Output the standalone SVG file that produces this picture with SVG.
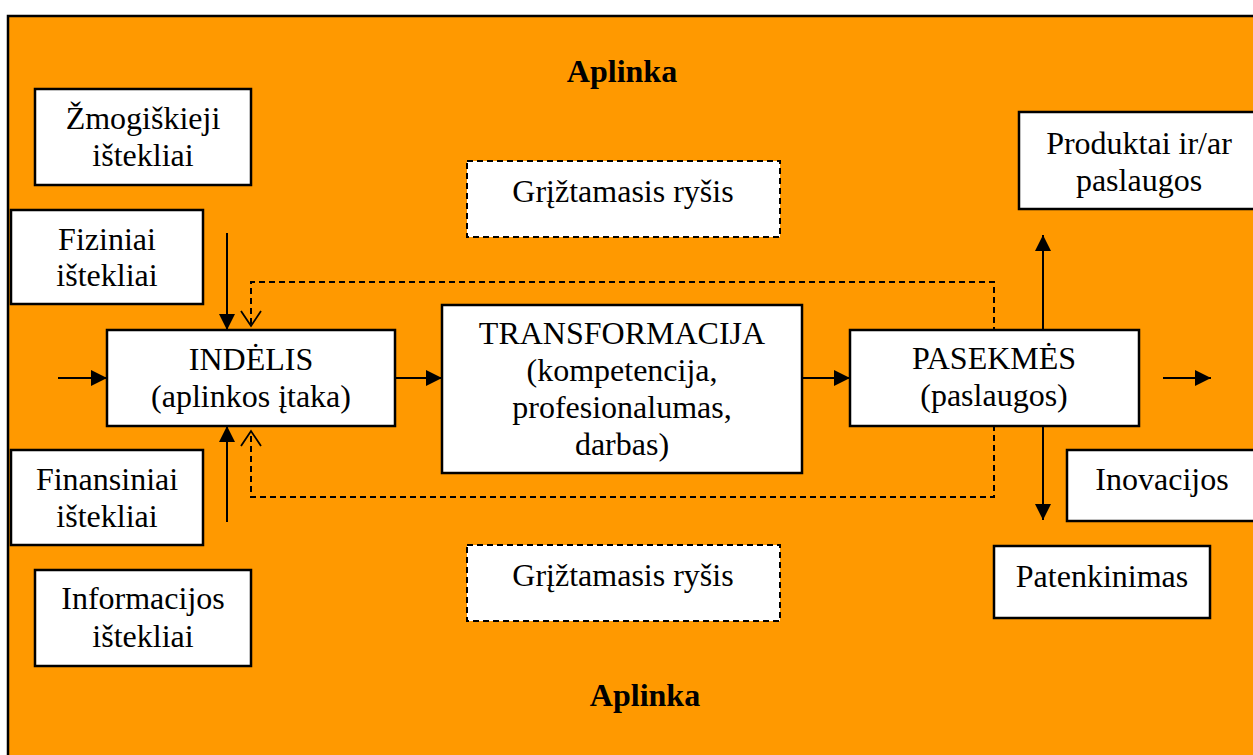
<svg xmlns="http://www.w3.org/2000/svg" width="1253" height="755" viewBox="0 0 1253 755">
  <style>
    .box { fill: #ffffff; stroke: #000000; stroke-width: 2.5; }
    .fb { fill: #ffffff; stroke: #000000; stroke-width: 2; stroke-dasharray: 6 4; }
    text { font-family: "Liberation Serif", "Times New Roman", serif; font-size: 32px; fill: #000000; text-anchor: middle; }
    .bold { font-weight: bold; }
    .line { fill: none; stroke: #000000; stroke-width: 2; }
    .dash { fill: none; stroke: #000000; stroke-width: 2; stroke-dasharray: 6 4; }
  </style>
  <defs>
    <marker id="solid" markerUnits="userSpaceOnUse" markerWidth="17" markerHeight="16" refX="16" refY="8" orient="auto">
      <path d="M0,0 L16,8 L0,16 Z" fill="#000000"/>
    </marker>
    <marker id="open" markerUnits="userSpaceOnUse" markerWidth="18" markerHeight="22" refX="16" refY="11" orient="auto">
      <path d="M1,1 L16,11 L1,21" fill="none" stroke="#000000" stroke-width="1.8"/>
    </marker>
  </defs>

  <!-- environment frame -->
  <rect x="8" y="16" width="1260" height="760" fill="#ff9900" stroke="#000000" stroke-width="2.5"/>
  <text class="bold" x="622" y="82">Aplinka</text>
  <text class="bold" x="645" y="706">Aplinka</text>

  <!-- connectors -->
  <g id="connectors">
    <line class="line" x1="58" y1="378" x2="107" y2="378" marker-end="url(#solid)"/>
    <line class="line" x1="227" y1="233" x2="227" y2="330" marker-end="url(#solid)"/>
    <line class="line" x1="227" y1="522" x2="227" y2="426" marker-end="url(#solid)"/>
    <line class="line" x1="395" y1="378" x2="442" y2="378" marker-end="url(#solid)"/>
    <line class="line" x1="802" y1="378" x2="850" y2="378" marker-end="url(#solid)"/>
    <line class="line" x1="1163" y1="378" x2="1211" y2="378" marker-end="url(#solid)"/>
    <line class="line" x1="1043" y1="333" x2="1043" y2="235" marker-end="url(#solid)"/>
    <line class="line" x1="1043" y1="425" x2="1043" y2="520" marker-end="url(#solid)"/>
    <path class="dash" d="M994,333 L994,282 L251,282 L251,326" marker-end="url(#open)"/>
    <path class="dash" d="M994,425 L994,497 L251,497 L251,431" marker-end="url(#open)"/>
  </g>

  <!-- resource nodes -->
  <g id="zmogiskieji">
    <rect class="box" x="35" y="89" width="216" height="96"/>
    <text x="143" y="129">Žmogiškieji</text>
    <text x="143" y="166">ištekliai</text>
  </g>
  <g id="fiziniai">
    <rect class="box" x="11" y="210" width="192" height="94"/>
    <text x="107" y="250">Fiziniai</text>
    <text x="107" y="286">ištekliai</text>
  </g>
  <g id="finansiniai">
    <rect class="box" x="11" y="450" width="192" height="95"/>
    <text x="107" y="490">Finansiniai</text>
    <text x="107" y="527">ištekliai</text>
  </g>
  <g id="informacijos">
    <rect class="box" x="35" y="570" width="216" height="96"/>
    <text x="143" y="609">Informacijos</text>
    <text x="143" y="647">ištekliai</text>
  </g>

  <!-- main process nodes -->
  <g id="indelis">
    <rect class="box" x="107" y="330" width="288" height="96"/>
    <text x="251" y="370">INDĖLIS</text>
    <text x="251" y="407">(aplinkos įtaka)</text>
  </g>
  <g id="transformacija">
    <rect class="box" x="442" y="305" width="360" height="168"/>
    <text x="622" y="344">TRANSFORMACIJA</text>
    <text x="622" y="381">(kompetencija,</text>
    <text x="622" y="418">profesionalumas,</text>
    <text x="622" y="455">darbas)</text>
  </g>
  <g id="pasekmes">
    <rect class="box" x="850" y="330" width="289" height="96"/>
    <text x="994" y="369">PASEKMĖS</text>
    <text x="994" y="406">(paslaugos)</text>
  </g>

  <!-- feedback nodes -->
  <g id="griztamasis-virsus">
    <rect class="fb" x="467" y="161" width="313" height="76"/>
    <text x="623" y="202">Grįžtamasis ryšis</text>
  </g>
  <g id="griztamasis-apacia">
    <rect class="fb" x="467" y="545" width="313" height="76"/>
    <text x="623" y="586">Grįžtamasis ryšis</text>
  </g>

  <!-- outcome nodes -->
  <g id="produktai">
    <rect class="box" x="1019" y="112" width="250" height="97"/>
    <text x="1139" y="154">Produktai ir/ar</text>
    <text x="1139" y="191">paslaugos</text>
  </g>
  <g id="inovacijos">
    <rect class="box" x="1067" y="450" width="200" height="71"/>
    <text x="1162" y="490">Inovacijos</text>
  </g>
  <g id="patenkinimas">
    <rect class="box" x="994" y="546" width="216" height="72"/>
    <text x="1102" y="587">Patenkinimas</text>
  </g>
</svg>
